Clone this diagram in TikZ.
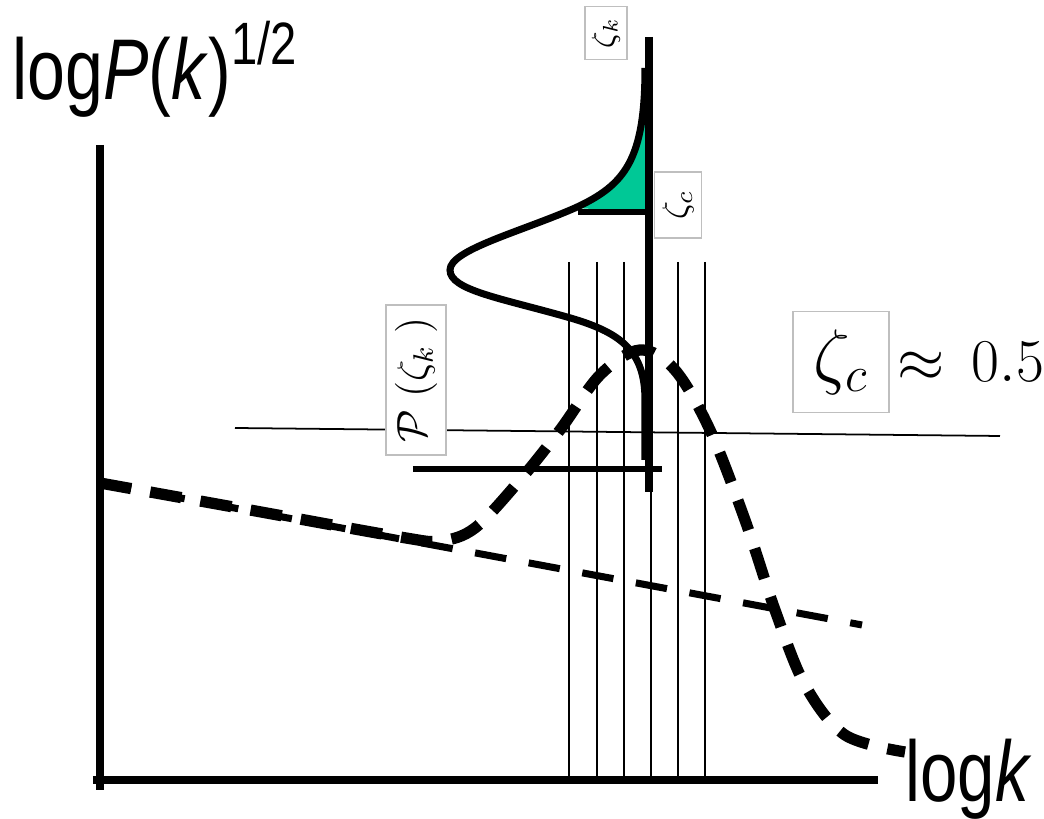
\documentclass[tikz,border=0pt]{standalone}
\usepackage{fontspec}
\newfontfamily\axisfont{Liberation Sans}
\usetikzlibrary{positioning}
\definecolor{tailgreen}{RGB}{0,200,150}
\tikzset{
	labelbox/.style={draw=black!25,line width=0.4pt,fill=white,inner sep=1pt},
	thickdash/.style={line width=3.2pt,dash pattern=on 9pt off 5.5pt},
	thindash/.style={line width=2pt,dash pattern=on 9pt off 6.5pt},
	axislabel/.style={font=\axisfont\fontsize{24.5}{28}\selectfont,inner sep=0pt}
}
\begin{document}
\begin{tikzpicture}[x=0.01cm,y=-0.01cm]
	\useasboundingbox (0,0) rectangle (1044,819);
	\foreach \x in {569,597,624,651,678,705}
		\draw[line width=0.5pt] (\x,262) -- (\x,780);
	\draw[line width=0.5pt] (235,428) -- (1000,436);
	\draw[line width=2pt] (100,145) -- (100,790);
	\draw[line width=2pt] (93,780) -- (878,780);
	\draw[thindash] (100,483) -- (862,625);
	\draw[thickdash] plot[smooth,tension=0.55] coordinates {(100,483) (250,510) (400,537) (440,541) (475,528) (520,480) (560,430) (600,375) (640,350) (675,370) (710,430) (745,520) (775,610) (805,685) (845,735) (905,752)};
	\node[axislabel,anchor=base west] (ylabel) at (12,100) {\scalebox{0.79}[1]{log\textit{P}(\textit{k})\raisebox{10pt}{\fontsize{17}{20}\selectfont 1/2}}};
	\node[axislabel,anchor=base west] (xlabel) at (905,802) {\scalebox{0.78}[1]{log\textit{k}}};
	\node[labelbox,minimum width=0.96cm,minimum height=1.01cm] (zcbox) at (841,362) {\fontsize{22}{26}\selectfont$\zeta_c$};
	\node[right=2pt of zcbox,inner sep=0pt] (approx) {\fontsize{17.5}{21}\selectfont$\approx\,0.5$};
	\node[labelbox,rotate=90,minimum width=1.5cm,minimum height=0.6cm] (pzeta) at (416,380) {\fontsize{12}{14}\selectfont$\mathcal{P}\;(\zeta_k\;)$};
	\node[labelbox,rotate=90,minimum width=0.53cm,minimum height=0.42cm] (zetak) at (606,33) {\fontsize{9}{10}\selectfont$\zeta_k$};
	\node[labelbox,rotate=90,minimum width=0.66cm,minimum height=0.47cm] (zetac) at (678,205) {\fontsize{10}{12}\selectfont$\zeta_c$};
	\fill[tailgreen] (645,68) .. controls (645,160) and (625,185) .. (575,208) -- (645,212) -- cycle;
	\draw[line width=2pt] (645,68) .. controls (645,160) and (625,185) .. (575,208)
		.. controls (520,232) and (450,250) .. (450,270)
		.. controls (450,290) and (500,298) .. (567,317)
		.. controls (620,332) and (645,350) .. (645,400) -- (645,460);
	\draw[line width=1.8pt] (578,212) -- (645,212);
	\draw[line width=1.8pt] (413,469) -- (662,469);
	\draw[line width=2.3pt] (649,37) -- (649,492);
\end{tikzpicture}
\end{document}
